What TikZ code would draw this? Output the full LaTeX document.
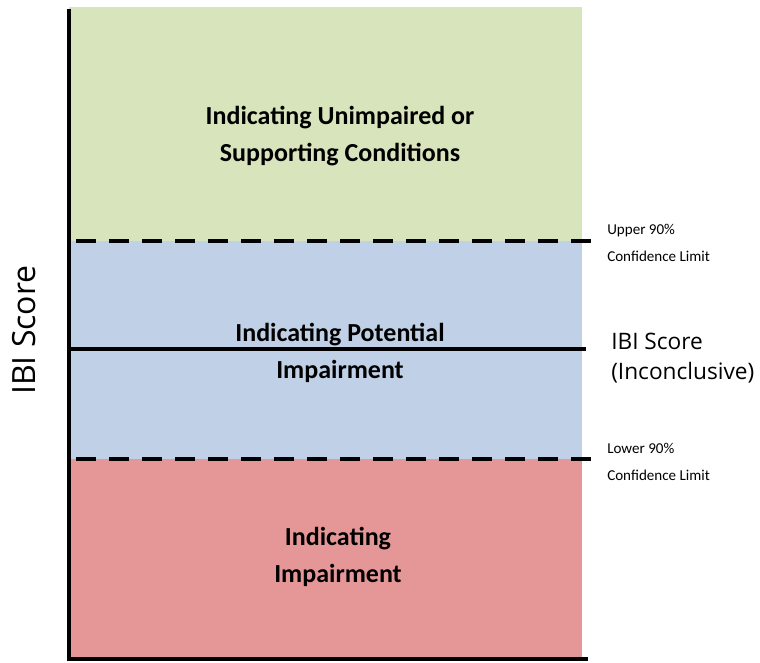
\documentclass[tikz,border=0pt]{standalone}
\usepackage{fontspec}
\usepackage{xcolor}
\setmainfont{Carlito}
\newfontfamily\opensans{Open Sans}
\usetikzlibrary{positioning}
\definecolor{greenzone}{RGB}{216,228,188}
\definecolor{bluezone}{RGB}{192,208,230}
\definecolor{redzone}{RGB}{229,151,152}
\tikzset{
  zonelabel/.style={align=center,font=\fontsize{19.5}{27.5}\selectfont\bfseries,inner sep=0pt},
  limitlabel/.style={align=left,anchor=west,font=\fontsize{11.3}{20}\selectfont,inner sep=0pt},
  scorelabel/.style={align=left,anchor=west,font=\opensans\fontsize{17}{22}\selectfont,inner sep=0pt},
  axisline/.style={line width=3.2pt},
  limitline/.style={line width=3.4pt,dash pattern=on 15pt off 9.75pt},
  scoreline/.style={line width=3pt}
}
\begin{document}
\begin{tikzpicture}[x=0.75pt,y=-0.75pt]
  \useasboundingbox (0,0) rectangle (760,663);
  \fill[greenzone] (69,7) rectangle (582,241);
  \fill[bluezone] (69,241) rectangle (582,459);
  \fill[redzone] (69,459) rectangle (582,659);

  \coordinate (upperL) at (76,241);
  \coordinate (upperR) at (593,241);
  \coordinate (scoreL) at (69,349);
  \coordinate (scoreR) at (586,349);
  \coordinate (lowerL) at (76,459);
  \coordinate (lowerR) at (593,459);
  \coordinate (axistop) at (69,9);
  \coordinate (origin) at (69,659);
  \coordinate (axisend) at (588,659);

  \draw[limitline] (upperL) -- (upperR);
  \draw[limitline] (lowerL) -- (lowerR);
  \draw[scoreline] (scoreL) -- (scoreR);
  \draw[axisline] (axistop) -- (origin) -- (axisend);

  \node[zonelabel] (unimpaired) at (340,136) {Indicating Unimpaired or\\Supporting Conditions};
  \node[zonelabel] (potential) at (340,353) {Indicating Potential\\Impairment};
  \node[zonelabel] (impaired) at (338,557) {Indicating\\Impairment};

  \node[limitlabel] (upperlimit) at (607,243) {Upper 90\%\\Confidence Limit};
  \node[scorelabel] (inconclusive) at (611,358) {IBI Score\\(Inconclusive)};
  \node[limitlabel] (lowerlimit) at (607,462) {Lower 90\%\\Confidence Limit};

  \node[rotate=90,font=\opensans\fontsize{24}{28}\selectfont,inner sep=0pt] (ytitle) at (24,330) {IBI Score};
\end{tikzpicture}
\end{document}
